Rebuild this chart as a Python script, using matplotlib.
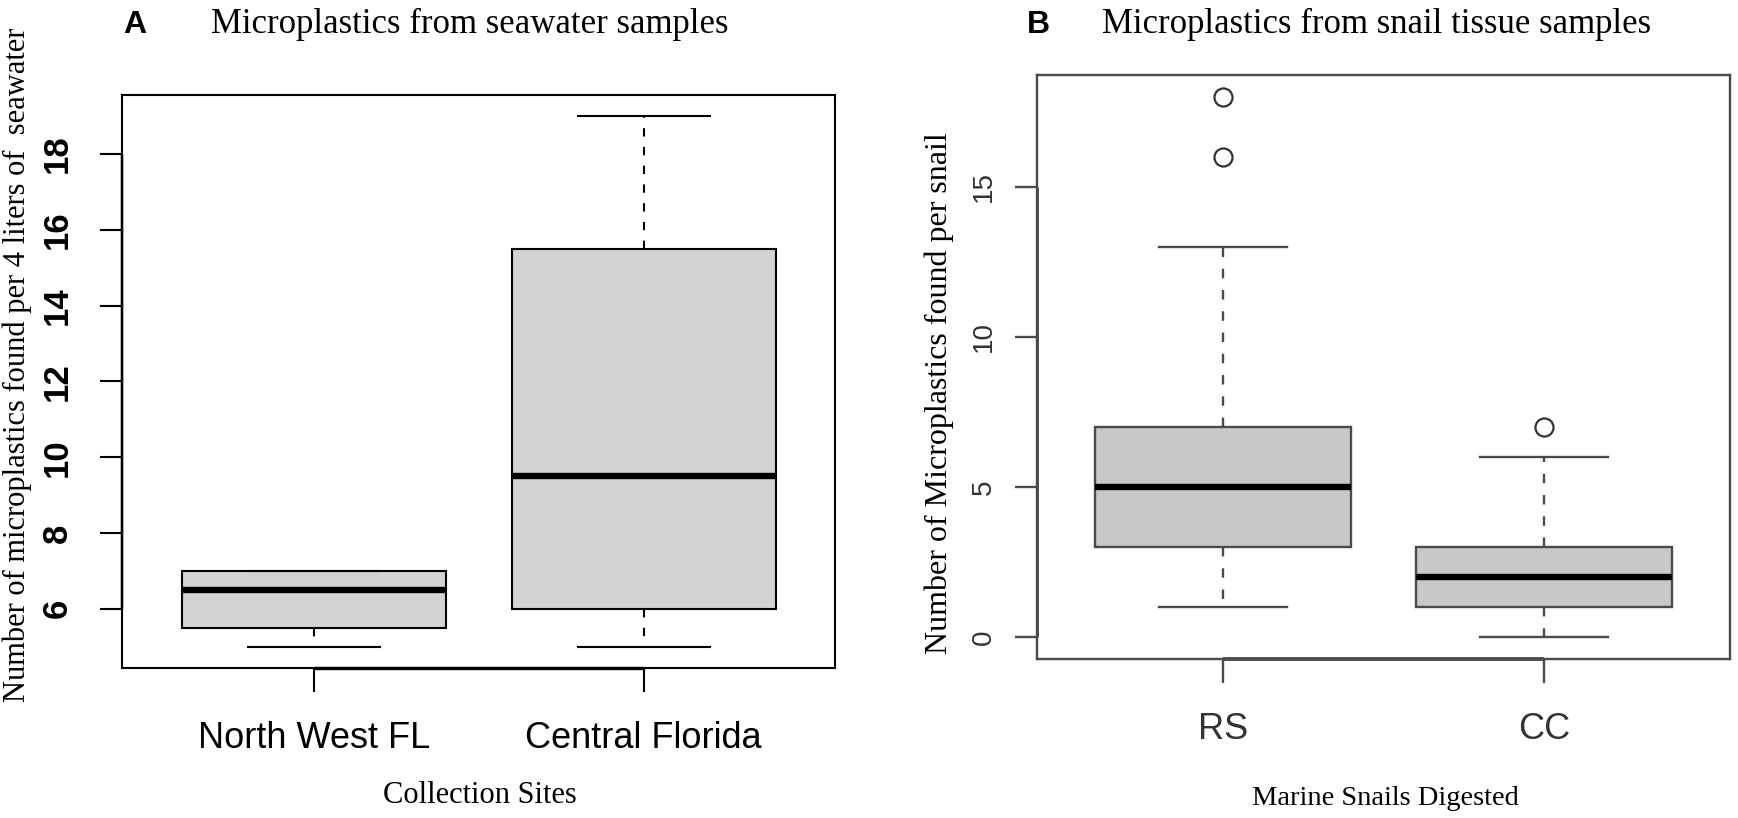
import matplotlib
matplotlib.use("Agg")
import matplotlib.pyplot as plt

# Panel A: microplastics in 4 L of seawater
sites = ["North West FL", "Central Florida"]
sea_low = [5, 5]
sea_q1 = [5.5, 6]
sea_med = [6.5, 9.5]
sea_q3 = [7, 15.5]
sea_high = [7, 19]
sea_out = [[], []]
sea_yticks = [6, 8, 10, 12, 14, 16, 18]

# Panel B: microplastics per snail
snails = ["RS", "CC"]
snail_low = [1, 0]
snail_q1 = [3, 1]
snail_med = [5, 2]
snail_q3 = [7, 3]
snail_high = [13, 6]
snail_out = [[16, 18], [7]]
snail_yticks = [0, 5, 10, 15]

plt.rcParams["font.family"] = ["Liberation Sans", "DejaVu Sans"]
SERIF = ["Liberation Serif", "DejaVu Serif"]


def make_stats(labels, lo, q1, med, q3, hi, out):
    stats = []
    for i in range(len(labels)):
        stats.append(dict(label=labels[i], whislo=lo[i], q1=q1[i], med=med[i],
                          q3=q3[i], whishi=hi[i], fliers=out[i]))
    return stats


def r_limits(lo, hi, out):
    vals = list(lo) + list(hi) + [v for o in out for v in o]
    a, b = min(vals), max(vals)
    pad = 0.04 * (b - a)
    return a - pad, b + pad


def draw_panel(ax, labels, lo, q1, med, q3, hi, out, yticks, fill, edge, lw,
               dash, ytick_size, ytick_weight, ytick_color, ytick_pad, xtick_color):
    stats = make_stats(labels, lo, q1, med, q3, hi, out)
    ax.bxp(stats, positions=[1, 2], widths=0.8, capwidths=0.4, patch_artist=True,
           boxprops=dict(facecolor=fill, edgecolor=edge, linewidth=lw),
           medianprops=dict(color="black", linewidth=4.6, solid_capstyle="butt"),
           whiskerprops=dict(color=edge, linewidth=lw, linestyle=(0, dash)),
           capprops=dict(color=edge, linewidth=lw),
           flierprops=dict(marker="o", markersize=13, markerfacecolor="none",
                           markeredgecolor="#333333", markeredgewidth=1.6))
    ylo, yhi = r_limits(lo, hi, out)
    ax.set_xlim(0.42, 2.58)
    ax.set_ylim(ylo, yhi)
    ax.set_xticks([1, 2], labels)
    ax.set_yticks(yticks)
    ax.tick_params(axis="x", length=17.3, width=lw, pad=21, labelsize=26,
                   colors=edge, labelcolor=xtick_color)
    ax.tick_params(axis="y", length=15.8, width=lw, pad=ytick_pad, labelsize=ytick_size,
                   labelrotation=90, colors=edge, labelcolor=ytick_color)
    for lab in ax.get_yticklabels():
        lab.set_va("center")
        lab.set_fontweight(ytick_weight)
    for sp in ax.spines.values():
        sp.set_color(edge)
        sp.set_linewidth(lw)
    # R draws the axis line on top of the box between first and last tick
    ax.plot([1, 2], [ylo, ylo], color=edge, lw=lw * 1.6, clip_on=False,
            solid_capstyle="butt")
    ax.plot([0.42, 0.42], [yticks[0], yticks[-1]], color=edge, lw=lw * 1.2,
            clip_on=False, solid_capstyle="butt")


fig = plt.figure(figsize=(17.38, 8.18), dpi=100)
fig.patch.set_facecolor("white")

axA = fig.add_axes([0.0704, 0.1834, 0.410, 0.7005])
draw_panel(axA, sites, sea_low, sea_q1, sea_med, sea_q3, sea_high, sea_out,
           sea_yticks, "#d3d3d3", "black", 1.5, (4, 5), 25, "bold", "black", 19, "black")

axB = fig.add_axes([0.5967, 0.1944, 0.3987, 0.7139])
draw_panel(axB, snails, snail_low, snail_q1, snail_med, snail_q3, snail_high, snail_out,
           snail_yticks, "#c8c8c8", "#4a4a4a", 1.7, (4, 5), 20, "normal", "#333333", 13,
           "#333333")

# panel letters and titles
fig.text(0.0708, 0.9597, "A", fontsize=23, fontweight="bold", va="baseline")
fig.text(0.1214, 0.9597, "Microplastics from seawater samples", family=SERIF,
         fontsize=25, va="baseline")
fig.text(0.5909, 0.9597, "B", fontsize=23, fontweight="bold", va="baseline")
fig.text(0.6341, 0.9597, "Microplastics from snail tissue samples", family=SERIF,
         fontsize=25, va="baseline")

# axis labels
fig.text(0.2762, 0.0183, "Collection Sites", family=SERIF, fontsize=22,
         ha="center", va="baseline")
fig.text(0.7969, 0.0159, "Marine Snails Digested", family=SERIF, fontsize=20.5,
         ha="center", va="baseline")
fig.text(25 / 1738, 0.5538, "Number of microplastics found per 4 liters of  seawater",
         family=SERIF, fontsize=22, rotation=90, rotation_mode="anchor",
         ha="center", va="baseline")
fig.text(947 / 1738, 0.52, "Number of Microplastics found per snail",
         family=SERIF, fontsize=23, rotation=90, rotation_mode="anchor",
         ha="center", va="baseline")

fig.savefig("out.png", dpi=100, facecolor="white")
